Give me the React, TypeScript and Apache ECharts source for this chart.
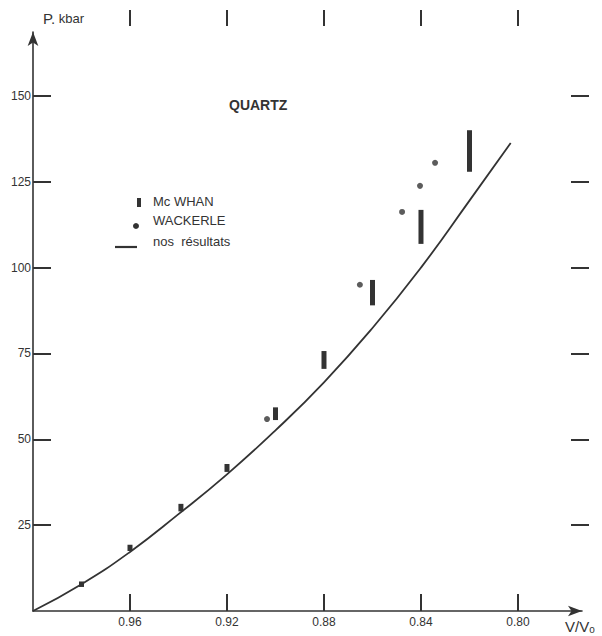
import React, { useEffect, useRef } from "react";
import * as echarts from "echarts";

// V/V0 tick values and pressure ticks (kbar)
const xTicks = [0.96, 0.92, 0.88, 0.84, 0.8];
const yTicks = [25, 50, 75, 100, 125, 150];

// Mc WHAN: V/V0, P low, P high (kbar)
const mcWhanV = [0.98, 0.96, 0.939, 0.92, 0.9, 0.88, 0.86, 0.84, 0.82];
const mcWhanLow = [7.0, 17.5, 29.0, 40.5, 55.6, 70.5, 89.0, 106.9, 127.9];
const mcWhanHigh = [8.6, 19.3, 31.2, 42.8, 59.3, 75.7, 96.4, 116.8, 140.0];

// WACKERLE points
const wackerleV = [0.9035, 0.8652, 0.8478, 0.8404, 0.8342];
const wackerleP = [55.9, 95.0, 116.2, 123.8, 130.5];

// nos résultats (curve)
const curveV = [1.0, 0.98, 0.96, 0.94, 0.92, 0.9, 0.88, 0.86, 0.84, 0.82, 0.803];
const curveP = [0, 7.8, 17.2, 28.2, 39.8, 52.6, 66.6, 82.4, 100.0, 119.5, 136.3];

const INK = "#333";
const FONT = "Liberation Sans";

export default function App() {
  const ref = useRef<HTMLDivElement>(null);
  useEffect(() => {
    if (!ref.current) return;
    const chart = echarts.init(ref.current, undefined, { renderer: "svg" });
    const bars = mcWhanV.map((v, i) => [v, mcWhanLow[i], mcWhanHigh[i]]);
    const dots = wackerleV.map((v, i) => [v, wackerleP[i]]);
    const curve = curveV.map((v, i) => [v, curveP[i]]);
    chart.setOption({
      animation: false,
      backgroundColor: "#fff",
      grid: { left: 33, right: 20, top: 32, bottom: 25, containLabel: false },
      xAxis: [
        {
          type: "value",
          inverse: true,
          min: 0.7736,
          max: 1.0,
          position: "bottom",
          splitLine: { show: false },
          axisLine: {
            show: true,
            onZero: false,
            symbol: ["none", "arrow"],
            symbolSize: [8, 14],
            lineStyle: { color: INK, width: 1.6 },
          },
          axisTick: {
            show: true,
            inside: true,
            length: 17,
            customValues: xTicks,
            lineStyle: { color: INK, width: 2 },
          },
          axisLabel: {
            customValues: xTicks,
            formatter: (v: number) => v.toFixed(2),
            color: INK,
            fontFamily: FONT,
            fontSize: 12,
            margin: 5,
          },
        },
        {
          type: "value",
          inverse: true,
          min: 0.7736,
          max: 1.0,
          position: "top",
          offset: 22,
          splitLine: { show: false },
          axisLine: { show: false, onZero: false },
          axisTick: {
            show: true,
            inside: true,
            length: 16,
            customValues: xTicks,
            lineStyle: { color: INK, width: 2 },
          },
          axisLabel: { show: false },
        },
      ],
      yAxis: [
        {
          type: "value",
          min: 0,
          max: 168.6,
          position: "left",
          splitLine: { show: false },
          axisLine: {
            show: true,
            onZero: false,
            symbol: ["none", "arrow"],
            symbolSize: [8, 14],
            lineStyle: { color: INK, width: 1.6 },
          },
          axisTick: {
            show: true,
            inside: true,
            length: 18,
            customValues: yTicks,
            lineStyle: { color: INK, width: 2 },
          },
          axisLabel: {
            customValues: yTicks,
            color: INK,
            fontFamily: FONT,
            fontSize: 12,
            margin: 2,
          },
        },
        {
          type: "value",
          min: 0,
          max: 168.6,
          position: "right",
          offset: 7,
          splitLine: { show: false },
          axisLine: { show: false, onZero: false },
          axisTick: {
            show: true,
            inside: true,
            length: 18,
            customValues: yTicks,
            lineStyle: { color: INK, width: 2 },
          },
          axisLabel: { show: false },
        },
      ],
      series: [
        {
          name: "nos résultats",
          type: "line",
          data: curve,
          smooth: true,
          showSymbol: false,
          lineStyle: { color: INK, width: 1.8 },
        },
        {
          name: "Mc WHAN",
          type: "custom",
          data: bars,
          encode: { x: 0, y: [1, 2] },
          renderItem: (params: any, api: any) => {
            const p1 = api.coord([api.value(0), api.value(1)]);
            const p2 = api.coord([api.value(0), api.value(2)]);
            return {
              type: "rect",
              shape: { x: p1[0] - 2.5, y: p2[1], width: 5, height: p1[1] - p2[1] },
              style: { fill: INK },
            };
          },
        },
        {
          name: "WACKERLE",
          type: "scatter",
          data: dots,
          symbol: "circle",
          symbolSize: 6,
          itemStyle: { color: INK },
        },
      ],
      graphic: [
        {
          type: "text",
          left: 43,
          top: 11,
          style: {
            text: "{a|P.}{b| kbar}",
            rich: {
              a: { fontSize: 15, fontFamily: FONT, fill: INK },
              b: { fontSize: 13, fontFamily: FONT, fill: INK },
            },
          },
        },
        {
          type: "text",
          left: 565,
          top: 619,
          style: {
            text: "{a|V/V}{b|o}",
            rich: {
              a: { fontSize: 15, fontFamily: FONT, fill: INK },
              b: { fontSize: 10, fontFamily: FONT, fill: INK, padding: [6, 0, 0, 0] },
            },
          },
        },
        {
          type: "text",
          left: 229,
          top: 98,
          style: {
            text: "QUARTZ",
            font: `bold 14px "${FONT}"`,
            fill: INK,
          },
        },
        { type: "rect", shape: { x: 137, y: 198, width: 4, height: 9 }, style: { fill: INK } },
        { type: "circle", shape: { cx: 136, cy: 226, r: 3 }, style: { fill: INK } },
        { type: "line", shape: { x1: 115, y1: 247, x2: 137, y2: 247 }, style: { stroke: INK, lineWidth: 2.2 } },
        {
          type: "text",
          left: 153,
          top: 195,
          style: { text: "Mc WHAN", font: `13px "${FONT}"`, fill: INK },
        },
        {
          type: "text",
          left: 153,
          top: 214,
          style: { text: "WACKERLE", font: `13px "${FONT}"`, fill: INK },
        },
        {
          type: "text",
          left: 153,
          top: 235,
          style: { text: "nos  résultats", font: `13px "${FONT}"`, fill: INK },
        },
      ],
    });
    return () => chart.dispose();
  }, []);
  return <div ref={ref} style={{ width: 602, height: 636, position: "absolute", left: 0, top: 0 }} />;
}
